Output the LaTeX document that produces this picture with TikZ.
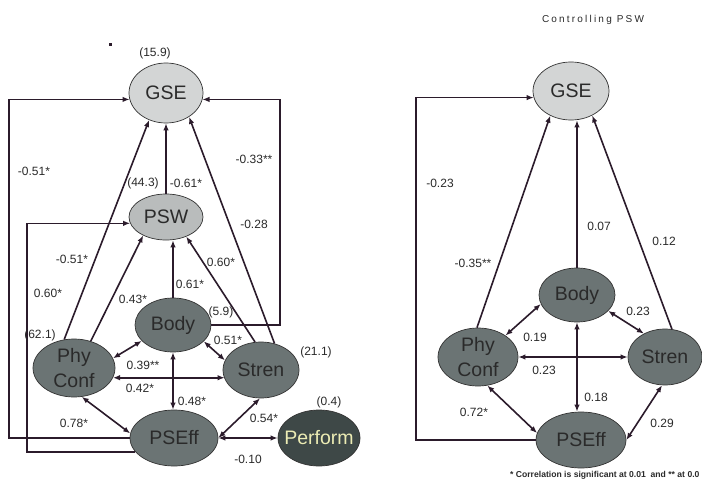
\documentclass[tikz,border=0pt]{standalone}
\usepackage{fontspec}
\setmainfont{Liberation Sans}
\usetikzlibrary{shapes.geometric,arrows.meta}
\definecolor{ln}{HTML}{2B1B2B}
\definecolor{gseF}{HTML}{D3D5D5}
\definecolor{pswF}{HTML}{B9BCBC}
\definecolor{darkF}{HTML}{6B7474}
\definecolor{perfF}{HTML}{3E4847}
\definecolor{perfT}{HTML}{ECECB4}
\definecolor{txt}{HTML}{2A2A2A}
\begin{document}
\begin{tikzpicture}[x=1pt,y=-1pt,
  ell/.style={ellipse, draw=black!80, line width=0.7pt, inner sep=0pt},
  nlab/.style={font=\fontsize{19.5}{25}\selectfont, text=txt, align=center, inner sep=0pt},
  val/.style={font=\fontsize{12}{14}\selectfont, text=txt, inner sep=0pt},
  arr/.style={draw=ln, line width=1.6pt, -{Latex[length=7pt,width=5.5pt]}},
  darr/.style={draw=ln, line width=1.6pt, {Latex[length=7pt,width=5.5pt]}-{Latex[length=7pt,width=5.5pt]}},
  boxarr/.style={draw=ln, line width=1.2pt, -{Latex[length=7pt,width=5.5pt]}}
]
\useasboundingbox[fill=white] (0,0) rectangle (702,479);

% ---------------- left diagram ----------------
\node[ell, fill=gseF, minimum width=74pt, minimum height=60pt, label={[nlab]center:GSE}] (GSE) at (166,93) {};
\node[ell, fill=pswF, minimum width=74pt, minimum height=46pt, label={[nlab]center:PSW}] (PSW) at (166,217) {};
\node[ell, fill=darkF, minimum width=76pt, minimum height=54pt, label={[nlab]center:Body}] (Body) at (173,325) {};
\node[ell, fill=darkF, minimum width=82pt, minimum height=58pt, label={[nlab]center:{Phy\\Conf}}] (Phy) at (74,368) {};
\node[ell, fill=darkF, minimum width=76pt, minimum height=56pt, label={[nlab]center:Stren}] (Stren) at (261,370) {};
\node[ell, fill=darkF, minimum width=88pt, minimum height=56pt, label={[nlab]center:PSEff}] (PSEff) at (174,438) {};
\node[ell, fill=perfF, minimum width=82pt, minimum height=56pt, label={[nlab,text=perfT]center:Perform}] (Perf) at (319,438) {};

\coordinate (LB1) at (9,0);
\coordinate (RB1) at (280,0);
\coordinate (LB2) at (27,0);

\draw[boxarr] (PSEff.west) -- (PSEff.west -| LB1) |- (GSE.190);
\draw[boxarr] (Body.east) -- (Body.east -| RB1) |- (GSE.-10);
\draw[boxarr] (PSEff.200) -- (PSEff.200 -| LB2) |- (PSW.190);

\draw[arr] (PSW.north) -- (GSE.south);
\draw[arr] (Phy.109) -- (GSE.238);
\draw[arr] (Phy.58) -- (PSW.219);
\draw[arr] (Body.north) -- (Body.north |- PSW.south);
\draw[arr] (Stren.102) -- (PSW.316);
\draw[arr] (Stren.63) -- (GSE.314);

\draw[darr] (Body.207) -- (Phy.14);
\draw[darr] (Body.332) -- (Stren.165);
\draw[darr] (Phy.-14) -- (Phy.-14 -| Stren.194);
\draw[darr] (Body.south) -- (Body.south |- PSEff.north);
\draw[darr] (Phy.285) -- (PSEff.174);
\draw[darr] (Stren.268) -- (PSEff.east);
\draw[darr] (PSEff.east) -- (Perf.west);

\fill[ln] (109,43) rectangle (111.5,45.5);

\node[val] (l1) at (155,53) {(15.9)};
\node[val] (l2) at (143,183) {(44.3)};
\node[val] (l3) at (186,183) {-0.61*};
\node[val] (l4) at (34,171) {-0.51*};
\node[val] (l5) at (254,159) {-0.33**};
\node[val] (l6) at (254,224) {-0.28};
\node[val] (l7) at (72,259) {-0.51*};
\node[val] (l8) at (48,293) {0.60*};
\node[val] (l9) at (133,299) {0.43*};
\node[val] (l10) at (190,284) {0.61*};
\node[val] (l11) at (221,262) {0.60*};
\node[val] (l12) at (221,312) {(5.9)};
\node[val] (l13) at (40,335) {(62.1)};
\node[val] (l14) at (228,340) {0.51*};
\node[val] (l15) at (316,352) {(21.1)};
\node[val] (l16) at (143,365) {0.39**};
\node[val] (l17) at (140,388) {0.42*};
\node[val] (l18) at (192,401) {0.48*};
\node[val] (l19) at (264,418) {0.54*};
\node[val] (l20) at (329,402) {(0.4)};
\node[val] (l21) at (74,423) {0.78*};
\node[val] (l22) at (248,459) {-0.10};

% ---------------- right diagram ----------------
\node[font=\fontsize{10}{12}\selectfont\addfontfeature{LetterSpace=22}, text=txt, inner sep=0pt] (title) at (593,20) {Controlling PSW};

\node[ell, fill=gseF, minimum width=76pt, minimum height=58pt, label={[nlab]center:GSE}] (GSEb) at (571,91) {};
\node[ell, fill=darkF, minimum width=76pt, minimum height=54pt, label={[nlab]center:Body}] (Bodyb) at (577,295) {};
\node[ell, fill=darkF, minimum width=80pt, minimum height=58pt, label={[nlab]center:{Phy\\Conf}}] (Phyb) at (478,357) {};
\node[ell, fill=darkF, minimum width=74pt, minimum height=56pt, label={[nlab]center:Stren}] (Strenb) at (665,357) {};
\node[ell, fill=darkF, minimum width=90pt, minimum height=56pt, label={[nlab]center:PSEff}] (PSEffb) at (581,440) {};

\coordinate (LB3) at (416,0);
\draw[boxarr] (PSEffb.west) -- (PSEffb.west -| LB3) |- (GSEb.190);

\draw[arr] (Phyb.92) -- (GSEb.230);
\draw[arr] (Bodyb.north) -- (Bodyb.north |- GSEb.south);
\draw[arr] (Strenb.76) -- (GSEb.311);

\draw[darr] (Bodyb.194) -- (Phyb.38);
\draw[darr] (Bodyb.333) -- (Strenb.132);
\draw[darr] (Phyb.east) -- (Phyb.east -| Strenb.west);
\draw[darr] (Bodyb.south) -- (Bodyb.south |- PSEffb.north);
\draw[darr] (Phyb.288) -- (PSEffb.171);
\draw[darr] (Strenb.264) -- (PSEffb.east);

\node[val] (r1) at (440,183) {-0.23};
\node[val] (r2) at (599,226) {0.07};
\node[val] (r3) at (664,241) {0.12};
\node[val] (r4) at (473,263) {-0.35**};
\node[val] (r5) at (535,337) {0.19};
\node[val] (r6) at (638,311) {0.23};
\node[val] (r7) at (544,370) {0.23};
\node[val] (r8) at (596,397) {0.18};
\node[val] (r9) at (474,412) {0.72*};
\node[val] (r10) at (662,423) {0.29};
\node[font=\bfseries\fontsize{8.6}{10}\selectfont, text=txt, inner sep=0pt, anchor=west] (foot) at (510,475) {* Correlation is significant at 0.01\ \ and ** at 0.0};
\end{tikzpicture}
\end{document}
